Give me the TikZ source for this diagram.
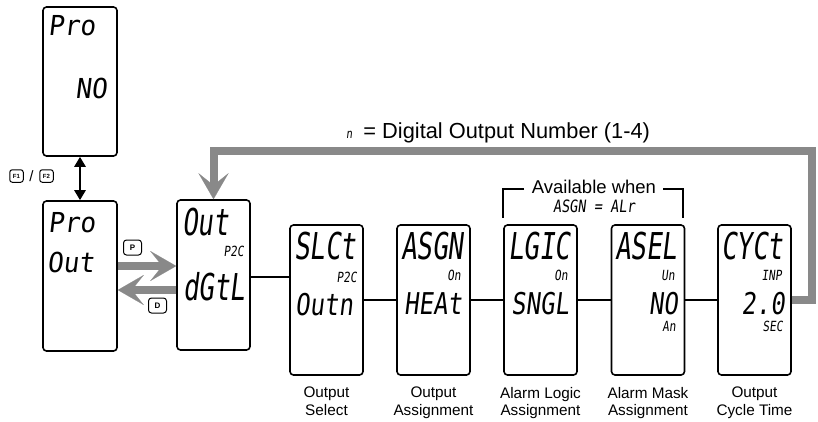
\documentclass[tikz,border=0pt]{standalone}
\usepackage{fontspec}
\setmainfont{Liberation Sans}
\newfontfamily\segT[FakeStretch=0.70,FakeSlant=0.12]{DejaVu Sans Mono}
\newfontfamily\segM[FakeStretch=0.80,FakeSlant=0.12]{DejaVu Sans Mono}
\newfontfamily\segW[FakeStretch=0.95,FakeSlant=0.12]{DejaVu Sans Mono}
\usetikzlibrary{arrows.meta,calc}
\definecolor{arrowgray}{RGB}{137,137,137}
\tikzset{
  disp/.style={draw, line width=1.6pt, rounded corners=3.5pt, minimum width=73pt, minimum height=150pt, inner sep=0pt},
  segtop/.style={inner sep=0pt, font=\segT\fontsize{37}{37}\selectfont},
  segbot/.style={inner sep=0pt, font=\segM\fontsize{30}{30}\selectfont},
  segpro/.style={inner sep=0pt, font=\segW\fontsize{27.5}{27.5}\selectfont},
  segsub/.style={inner sep=0pt, font=\segM\fontsize{14}{14}\selectfont},
  lbl/.style={align=center, anchor=north, font=\fontsize{15.3}{17.5}\selectfont, inner sep=0pt},
  conn/.style={line width=1.4pt},
  brk/.style={line width=1.8pt},
  garrow/.style={line width=8pt, draw=arrowgray, line join=miter,
    -{Stealth[length=26pt,width=30pt,inset=12pt,line width=0.1pt]}},
  keybox/.style={draw, line width=1pt, rounded corners=3pt, minimum width=18pt, minimum height=15pt, inner sep=0pt, font=\bfseries\fontsize{8}{8}\selectfont},
  fkey/.style={draw, line width=1pt, rounded corners=2.5pt, minimum width=13.5pt, minimum height=12.5pt, inner sep=0pt, font=\bfseries\fontsize{6}{6}\selectfont}
}
\begin{document}
\begin{tikzpicture}[x=1pt,y=-1pt]
\fill[white] (0,0) rectangle (818,421);
\useasboundingbox (0,0) rectangle (818,421);

% coordinates for connector heights
\coordinate (yP) at (0,266);
\coordinate (yD) at (0,290);
\coordinate (yC) at (0,277);
\coordinate (yTop) at (0,151);
\coordinate (xR) at (812,0);

% --- boxes ---
\node[disp, minimum width=74pt, minimum height=149pt] (A) at (80,81.5) {};
\node[disp, minimum width=74pt] (B) at (80,276) {};
\node[disp] (C) at (213.5,275) {};
\node[disp] (D) at (326.5,300) {};
\node[disp] (E) at (433.5,300) {};
\node[disp] (F) at (540.5,300) {};
\node[disp] (G) at (648,300) {};
\node[disp] (H) at (754.5,300) {};

% --- box texts ---
\node[segpro, anchor=base west] (A1) at (48,35) {Pro};
\node[segpro, anchor=base east] (A2) at (107,98) {NO};
\node[segpro, anchor=base west] (B1) at (48,232) {Pro};
\node[segpro, anchor=base west] (B2) at (47,272) {Out};

\node[segtop, anchor=base west] (C1) at (182,235) {Out};
\node[segsub, anchor=base east] (C2) at (244,256) {P2C};
\node[segtop, anchor=base west] (C3) at (183,300) {dGtL};

\node[segtop, anchor=base west] (D1) at (294,259) {SLCt};
\node[segsub, anchor=base east] (D2) at (357,282) {P2C};
\node[segbot, anchor=base west] (D3) at (295,315) {Outn};

\node[segtop, anchor=base west] (E1) at (401,259) {ASGN};
\node[segsub, anchor=base east] (E2) at (461,280) {On};
\node[segbot, anchor=base west] (E3) at (404,314) {HEAt};

\node[segtop, anchor=base west] (F1t) at (508,259) {LGIC};
\node[segsub, anchor=base east] (F2t) at (568,280) {On};
\node[segbot, anchor=base west] (F3t) at (511,314) {SNGL};

\node[segtop, anchor=base west] (G1) at (615,259) {ASEL};
\node[segsub, anchor=base east] (G2) at (675,280) {Un};
\node[segbot, anchor=base east] (G3) at (678,314) {NO};
\node[segsub, anchor=base east] (G4) at (676,331) {An};

\node[segtop, anchor=base west] (H1) at (721,259) {CYCt};
\node[segsub, anchor=base east] (H2) at (782,280) {INP};
\node[segbot, anchor=base east] (H3) at (785,314) {2.0};
\node[segsub, anchor=base east] (H4) at (783,331) {SEC};

% --- labels ---
\node[lbl] (LD) at (326.5,387) {Output\\Select};
\node[lbl] (LE) at (433.5,387) {Output\\Assignment};
\node[lbl] (LF) at (540.5,387) {Alarm Logic\\Assignment};
\node[lbl] (LG) at (648,387) {Alarm Mask\\Assignment};
\node[lbl] (LH) at (754.5,387) {Output\\Cycle Time};

% --- title ---
\node[anchor=base west, inner sep=0pt, font=\fontsize{21.8}{21.8}\selectfont] (T) at (346,138)
  {{\segM\fontsize{13}{13}\selectfont n}\hspace{11pt}= Digital Output Number (1-4)};

% --- available when ---
\node[anchor=base, inner sep=0pt, font=\fontsize{18.5}{18.5}\selectfont] (AW) at (594,193) {Available when};
\node[anchor=base, inner sep=0pt, font=\segM\fontsize{17}{17}\selectfont] (AW2) at (594,212) {ASGN = ALr};
\draw[brk] (524,189) -- (503,189) -- (503,218);
\draw[brk] (663,189) -- (683,189) -- (683,218);

% --- keys ---
\node[fkey] (KF1) at (16.5,176) {F1};
\node[inner sep=0pt, font=\fontsize{15}{15}\selectfont] (KS) at (31.5,176) {/};
\node[fkey] (KF2) at (46.5,176) {F2};
\node[keybox] (KP) at (132.5,247.5) {P};
\node[keybox] (KD) at (157.5,305.5) {D};

% --- connectors ---
\draw[line width=2.5pt, {Triangle[width=11pt,length=10pt]}-{Triangle[width=11pt,length=10pt]}] (A.south) -- (B.north);
\draw[garrow] (B.east |- yP) -- (C.west |- yP);
\draw[garrow] (C.west |- yD) -- (B.east |- yD);
\draw[conn] (C.east |- yC) -- (D.west |- yC);
\draw[conn] (D.east) -- (E.west);
\draw[conn] (E.east) -- (F.west);
\draw[conn] (F.east) -- (G.west);
\draw[conn] (G.east) -- (H.west);
\draw[garrow] (H.east) -- (xR |- H.east) -- (xR |- yTop) -- (C.north |- yTop) -- (C.north);
\end{tikzpicture}
\end{document}
